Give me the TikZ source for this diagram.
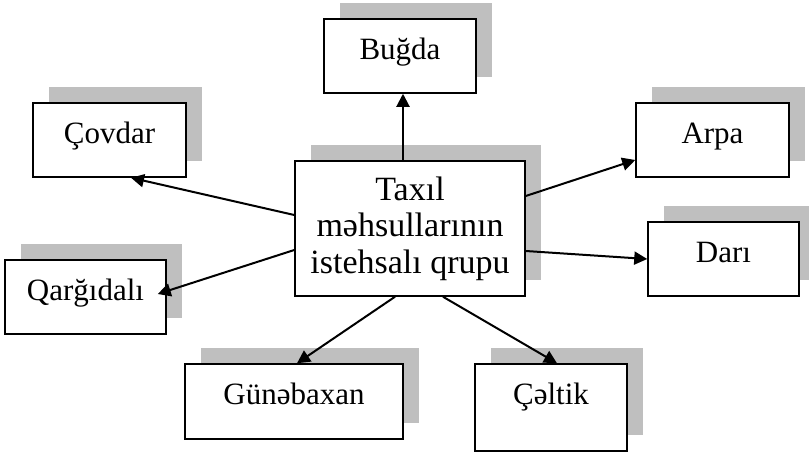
\documentclass[tikz,border=0pt]{standalone}
\usepackage{fontspec}
\setmainfont{Liberation Serif}
\usetikzlibrary{shadows,arrows.meta}

\begin{document}
\begin{tikzpicture}[x=0.5pt,y=-0.5pt,
	kasten/.style={draw,line width=0.75pt,fill=white,inner sep=0pt,
		drop shadow={shadow xshift=8pt,shadow yshift=8pt,fill=black!25,opacity=1}},
	sorte/.style={kasten,font=\fontsize{15.5}{18}\selectfont,text height=20pt},
	pfeil/.style={line width=1pt,-{Triangle[length=6.5pt,width=6.5pt]}}]
	\useasboundingbox (0,0) rectangle (809,455);
	
	\node[kasten,minimum width=115pt,minimum height=67.5pt,align=center,
		font=\fontsize{17}{18.25}\selectfont] (taxil) at (410,228.5)
		{Taxıl\\məhsullarının\\istehsalı qrupu};
	
	\node[sorte,minimum width=76pt,text depth=17pt]   (bugda)     at (400,56)    {Buğda};
	\node[sorte,minimum width=76.5pt,text depth=17pt] (covdar)    at (109.5,140) {Çovdar};
	\node[sorte,minimum width=76.5pt,text depth=17pt] (arpa)      at (712.5,140) {Arpa};
	\node[sorte,minimum width=75.5pt,text depth=17pt] (dari)      at (723.5,259) {Darı};
	\node[sorte,minimum width=80.5pt,text depth=17pt] (qargidali) at (85.5,297)  {Qarğıdalı};
	\node[sorte,minimum width=109pt,text depth=17.5pt] (gunebaxan) at (294,401.5) {Günəbaxan};
	\node[sorte,minimum width=76pt,text depth=23.5pt] (celtik)    at (551,407.5) {Çəltik};
	
	%\draw[thin,gray] (taxil) -- (bugda);
	\draw[pfeil] ([xshift=-3.5pt]taxil.north) -- ([xshift=-3.5pt]taxil.north |- bugda.south);
	\draw[pfeil] ([yshift=6.75pt]taxil.west) -- ([xshift=10.75pt]covdar.south);
	\draw[pfeil] ([yshift=-10.75pt]taxil.west) -- ([xshift=-4.5pt,yshift=1.5pt]qargidali.east);
	\draw[pfeil] ([yshift=16.25pt]taxil.east) -- ([yshift=-10pt]arpa.west);
	\draw[pfeil] ([yshift=-11.25pt]taxil.east) -- (dari.west);
	\draw[pfeil] ([xshift=-7.5pt]taxil.south) -- ([xshift=1.5pt]gunebaxan.north);
	\draw[pfeil] ([xshift=16.5pt]taxil.south) -- ([xshift=3pt]celtik.north);
\end{tikzpicture}
\end{document}
